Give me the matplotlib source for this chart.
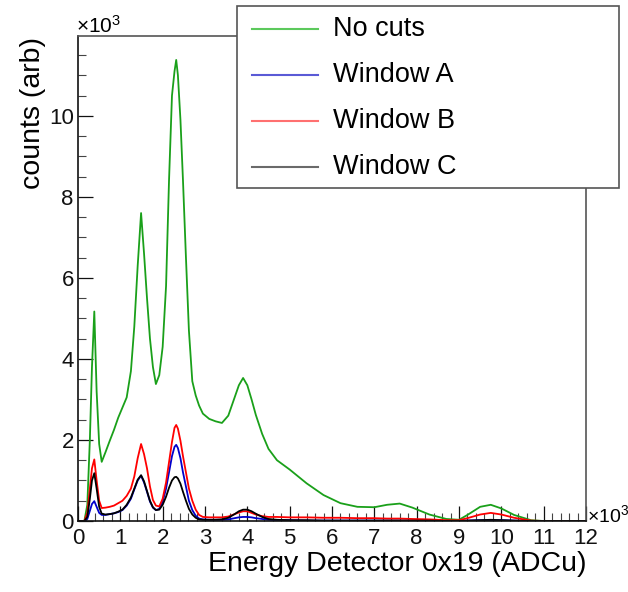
import matplotlib
matplotlib.use("Agg")
import matplotlib.pyplot as plt
from matplotlib.lines import Line2D
from matplotlib.patches import Rectangle
from matplotlib.ticker import MultipleLocator

plt.rcParams["font.family"] = ["Liberation Sans", "DejaVu Sans"]
plt.rcParams["mathtext.fontset"] = "custom"
plt.rcParams["mathtext.rm"] = "Liberation Sans"

# energy in units of 1e3 ADCu, counts in units of 1e3
energy = [0.00, 0.15, 0.22, 0.28, 0.33, 0.385, 0.44, 0.50, 0.56, 0.65,
          0.75, 0.85, 0.95, 1.05, 1.15, 1.25, 1.33, 1.41, 1.49, 1.56,
          1.63, 1.70, 1.77, 1.84, 1.92, 2.00, 2.08, 2.15, 2.22, 2.28,
          2.32, 2.36, 2.42, 2.48, 2.55, 2.62, 2.70, 2.78, 2.86, 2.95,
          3.10, 3.25, 3.40, 3.55, 3.70, 3.80, 3.90, 4.00, 4.10, 4.20,
          4.35, 4.50, 4.70, 5.00, 5.40, 5.80, 6.20, 6.60, 7.00, 7.30,
          7.60, 7.90, 8.30, 8.70, 9.00, 9.20, 9.50, 9.75, 10.00, 10.30,
          10.70, 11.00, 12.00]

no_cuts = [0.0, 0.0, 0.4, 2.0, 3.8, 5.17, 3.2, 1.9, 1.46, 1.7,
           1.98, 2.25, 2.55, 2.8, 3.05, 3.7, 4.8, 6.3, 7.6, 6.6,
           5.5, 4.5, 3.8, 3.38, 3.6, 4.3, 5.8, 8.4, 10.5, 11.1,
           11.38, 11.0, 9.9, 8.4, 6.5, 4.7, 3.45, 3.1, 2.85, 2.65,
           2.52, 2.46, 2.42, 2.6, 3.05, 3.35, 3.53, 3.35, 3.0, 2.62,
           2.15, 1.78, 1.5, 1.27, 0.93, 0.64, 0.44, 0.35, 0.34, 0.4,
           0.43, 0.33, 0.16, 0.05, 0.03, 0.15, 0.35, 0.4, 0.31, 0.15,
           0.02, 0.0, 0.0]

window_a = [0.0, 0.0, 0.05, 0.25, 0.42, 0.49, 0.35, 0.2, 0.15, 0.15,
            0.17, 0.19, 0.22, 0.27, 0.38, 0.55, 0.78, 1.0, 1.12, 0.95,
            0.72, 0.48, 0.33, 0.27, 0.3, 0.48, 0.8, 1.2, 1.6, 1.83,
            1.88, 1.8, 1.55, 1.2, 0.85, 0.5, 0.27, 0.13, 0.06, 0.04,
            0.03, 0.03, 0.03, 0.04, 0.07, 0.09, 0.1, 0.1, 0.09, 0.07,
            0.05, 0.03, 0.02, 0.02, 0.01, 0.01, 0.01, 0.01, 0.01, 0.01,
            0.01, 0.01, 0.0, 0.0, 0.0, 0.01, 0.02, 0.02, 0.02, 0.01,
            0.0, 0.0, 0.0]

window_b = [0.0, 0.0, 0.2, 0.8, 1.3, 1.52, 1.0, 0.5, 0.32, 0.33,
            0.35, 0.38, 0.44, 0.5, 0.62, 0.8, 1.1, 1.55, 1.9, 1.65,
            1.3, 0.85, 0.52, 0.38, 0.36, 0.55, 0.95, 1.45, 1.95, 2.3,
            2.37, 2.28, 1.98, 1.6, 1.2, 0.8, 0.5, 0.28, 0.15, 0.1,
            0.09, 0.09, 0.09, 0.11, 0.17, 0.21, 0.24, 0.24, 0.2, 0.16,
            0.12, 0.1, 0.1, 0.09, 0.09, 0.08, 0.08, 0.07, 0.07, 0.06,
            0.06, 0.05, 0.04, 0.02, 0.02, 0.07, 0.16, 0.2, 0.16, 0.08,
            0.01, 0.0, 0.0]

window_c = [0.0, 0.0, 0.1, 0.55, 1.0, 1.18, 0.8, 0.35, 0.18, 0.16,
            0.17, 0.19, 0.23, 0.28, 0.4, 0.58, 0.8, 1.02, 1.13, 0.98,
            0.74, 0.5, 0.34, 0.27, 0.28, 0.4, 0.6, 0.82, 1.0, 1.08,
            1.09, 1.05, 0.92, 0.72, 0.5, 0.3, 0.16, 0.08, 0.04, 0.03,
            0.03, 0.03, 0.04, 0.08, 0.17, 0.24, 0.28, 0.28, 0.24, 0.18,
            0.1, 0.05, 0.03, 0.02, 0.02, 0.01, 0.01, 0.01, 0.01, 0.01,
            0.01, 0.01, 0.01, 0.0, 0.0, 0.01, 0.02, 0.03, 0.02, 0.01,
            0.0, 0.0, 0.0]

labels = ["No cuts", "Window A", "Window B", "Window C"]
series = [no_cuts, window_a, window_b, window_c]
colors = ["#1aa01a", "#0000cc", "#ff0000", "#000000"]
legend_colors = ["#5cc95c", "#5a5ad6", "#ff7070", "#6a6a6a"]

W, H = 628, 592
fig = plt.figure(figsize=(W / 100, H / 100), dpi=100)
fig.patch.set_facecolor("white")
ax = fig.add_axes([78 / W, 1 - 521 / H, (586 - 78) / W, (521 - 36) / H])

for ys, c in zip(series, colors):
    ax.plot(energy, ys, color=c, linewidth=1.3)

ax.set_xlim(0, 12)
ax.set_ylim(0, 11.97)
ax.xaxis.set_major_locator(MultipleLocator(1))
ax.xaxis.set_minor_locator(MultipleLocator(0.2))
ax.yaxis.set_major_locator(MultipleLocator(2))
ax.yaxis.set_minor_locator(MultipleLocator(0.5))
ax.tick_params(which="both", direction="in", top=False, right=False,
               colors="#111111", labelsize=16)
ax.tick_params(which="major", length=10.5, width=0.9)
ax.tick_params(which="minor", length=5.5, width=0.8, color="#444444")
ax.tick_params(axis="x", pad=5)
ax.tick_params(axis="y", pad=3)
for side in ["left", "bottom"]:
    ax.spines[side].set_color("#111111")
    ax.spines[side].set_linewidth(1.2)
for side in ["top", "right"]:
    ax.spines[side].set_color("#555555")
    ax.spines[side].set_linewidth(1.2)

fig.text(586 / W, 1 - 564 / H, "Energy Detector 0x19 (ADCu)", fontsize=20.5,
         ha="right", va="center")
fig.text(33 / W, 1 - 37 / H, "counts (arb)", fontsize=20.5, rotation=90,
         ha="center", va="top")
mult = r"$\mathregular{\times10^{3}}$"
fig.text(76 / W, 1 - 37 / H, mult, fontsize=15, ha="left", va="bottom")
fig.text(587 / W, 1 - 515 / H, mult, fontsize=14, ha="left", va="center")

# legend box drawn in figure pixels like the ROOT TLegend
fig.add_artist(Rectangle((237 / W, 1 - 188 / H), (619 - 237) / W, (188 - 6) / H,
                         transform=fig.transFigure, facecolor="white",
                         edgecolor="#555555", linewidth=1.2, zorder=5))
rows = [29, 75, 121, 167]
for lab, c, yr in zip(labels, legend_colors, rows):
    fig.add_artist(Line2D([252 / W, 318 / W], [1 - yr / H, 1 - yr / H],
                          transform=fig.transFigure, color=c, linewidth=1.5, zorder=6))
    fig.text(333 / W, 1 - yr / H, lab, fontsize=19.5, ha="left", va="center",
             zorder=6)

fig.savefig("out.png", dpi=100)
